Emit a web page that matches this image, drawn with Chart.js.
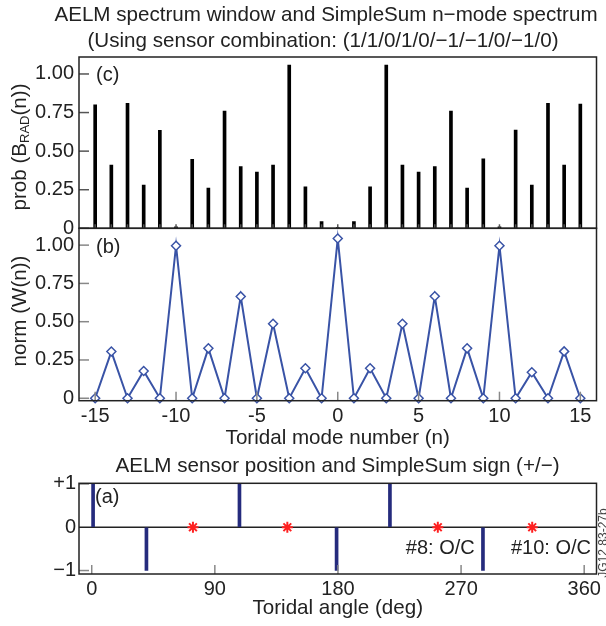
<!DOCTYPE html>
<html lang="en">
<head>
<meta charset="UTF-8">
<title>AELM spectrum window and SimpleSum n-mode spectrum</title>
<script src="https://cdn.jsdelivr.net/npm/chart.js"></script>
<style>
    body { margin: 0; background: #fff; }
    #wrap { position: relative; width: 606px; height: 626px; overflow: hidden; }
    #wrap canvas { position: absolute; left: 0; top: 0; }
</style>
</head>
<body>
<div id="wrap">
    <canvas id="specChart" width="606" height="626"></canvas>
    <canvas id="normChart" width="606" height="626"></canvas>
    <canvas id="sensorChart" width="606" height="626"></canvas>
</div>
<script>
// toroidal mode numbers n
const modeNumbers = [-15, -14, -13, -12, -11, -10, -9, -8, -7, -6, -5, -4, -3, -2, -1, 0,
                     1, 2, 3, 4, 5, 6, 7, 8, 9, 10, 11, 12, 13, 14, 15];
// (c) prob(B_RAD(n))
const probBrad = [0.80, 0.41, 0.81, 0.28, 0.635, 0.01, 0.447, 0.26, 0.76, 0.40, 0.365, 0.41, 1.058, 0.268, 0.043, 0.005,
                  0.043, 0.268, 1.058, 0.41, 0.365, 0.40, 0.76, 0.26, 0.45, 0.01, 0.637, 0.28, 0.81, 0.41, 0.805];
// (b) norm(W(n))
const normW = [0, 0.305, 0, 0.178, 0, 0.996, 0, 0.326, 0, 0.665, 0, 0.487, 0, 0.196, 0, 1.043,
               0, 0.196, 0, 0.487, 0, 0.666, 0, 0.326, 0, 0.996, 0, 0.17, 0, 0.306, 0];
// (a) sensors used (sign +1 / -1) and open-circuit sensors (0)
const sensorAngles = [1, 40, 108, 179, 218, 286];
const sensorSigns = [1, -1, 1, -1, 1, -1];
const openAngles = [74, 143, 253, 322];
const openValues = [0, 0, 0, 0];

// tick values and labels
const probTicks = [0, 0.25, 0.5, 0.75, 1.0];
const probTickLabels = ['0', '0.25', '0.50', '0.75', '1.00'];
const nTicks = [-15, -10, -5, 0, 5, 10, 15];
const nTickLabels = ['-15', '-10', '-5', '0', '5', '10', '15'];
const angleTicks = [0, 90, 180, 270, 360];
const angleTickLabels = ['0', '90', '180', '270', '360'];
const signTicks = [-1, 0, 1];
const signTickLabels = ['\u22121', '0', '+1'];

const FONT = '"Liberation Sans", Arial, Helvetica, sans-serif';
Chart.defaults.font.family = FONT;
Chart.defaults.font.size = 20;
Chart.defaults.color = '#222';

const PLOT_LEFT = 79;
const PLOT_RIGHT = 596.5;
const TITLE_SIZE = 20.6;

// frame, inward tick marks, zero line and free text
const panelDecor = {
    id: 'panelDecor',
    beforeDatasetsDraw(chart, args, opts) {
        const {ctx, chartArea: a, scales: {y}} = chart;
        if (opts.zeroLine) {
            const py = y.getPixelForValue(0);
            ctx.save();
            ctx.strokeStyle = '#222';
            ctx.lineWidth = 1.5;
            ctx.beginPath();
            ctx.moveTo(a.left, py);
            ctx.lineTo(a.right, py);
            ctx.stroke();
            ctx.restore();
        }
    },
    afterDraw(chart, args, opts) {
        const {ctx, chartArea: a, scales: {x, y}} = chart;
        ctx.save();
        ctx.strokeStyle = opts.markColor || '#888';
        ctx.lineWidth = 1.5;
        (opts.yMarks || []).forEach(v => {
            const py = y.getPixelForValue(v);
            ctx.beginPath();
            ctx.moveTo(a.left, py);
            ctx.lineTo(a.left + opts.yMarkLen, py);
            ctx.stroke();
        });
        (opts.xMarks || []).forEach(v => {
            const px = x.getPixelForValue(v);
            ctx.beginPath();
            ctx.moveTo(px, a.bottom);
            ctx.lineTo(px, a.bottom - opts.xMarkLen);
            ctx.stroke();
        });
        ctx.strokeStyle = '#222';
        ctx.lineWidth = 1.5;
        ctx.strokeRect(a.left, a.top, a.right - a.left, a.bottom - a.top);

        (opts.texts || []).forEach(t => {
            ctx.save();
            ctx.fillStyle = t.color || '#222';
            ctx.textBaseline = 'middle';
            const px = t.xv !== undefined ? x.getPixelForValue(t.xv) : t.x;
            const py = t.yv !== undefined ? y.getPixelForValue(t.yv) : t.y;
            ctx.translate(px, py);
            if (t.rotate) ctx.rotate(t.rotate);
            if (t.parts) {
                // text with subscript pieces, centred
                let total = 0;
                t.parts.forEach(p => {
                    ctx.font = p.size + 'px ' + FONT;
                    total += ctx.measureText(p.text).width;
                });
                let cx = -total / 2;
                ctx.textAlign = 'left';
                t.parts.forEach(p => {
                    ctx.font = p.size + 'px ' + FONT;
                    ctx.fillText(p.text, cx, p.dy || 0);
                    cx += ctx.measureText(p.text).width;
                });
            } else {
                ctx.font = (t.size || 20) + 'px ' + FONT;
                ctx.textAlign = t.align || 'center';
                ctx.fillText(t.text, 0, 0);
            }
            ctx.restore();
        });
        ctx.restore();
    }
};

function yAxis(min, max, ticks, labels, pad) {
    return {
        min: min,
        max: max,
        afterFit: s => { s.width = PLOT_LEFT; },
        afterBuildTicks: s => { s.ticks = ticks.map(v => ({value: v})); },
        ticks: {
            padding: pad,
            callback: v => labels[ticks.indexOf(v)]
        },
        grid: {drawOnChartArea: false, drawTicks: false},
        border: {display: false}
    };
}

// (c) spectrum window
new Chart(document.getElementById('specChart'), {
    type: 'bar',
    data: {
        datasets: [{
            data: modeNumbers.map((n, i) => ({x: n, y: probBrad[i]})),
            backgroundColor: '#000',
            barThickness: 3
        }]
    },
    options: {
        responsive: false,
        animation: false,
        layout: {padding: {top: 57, right: 606 - PLOT_RIGHT, bottom: 626 - 228.3, left: 0}},
        scales: {
            x: {type: 'linear', min: -16, max: 16, offset: false, display: false},
            y: yAxis(0, 1.11, probTicks, probTickLabels, 5)
        },
        plugins: {
            legend: {display: false},
            tooltip: {enabled: false},
            panelDecor: {
                yMarks: probTicks, yMarkLen: 10,
                xMarks: modeNumbers, xMarkLen: 4, markColor: '#555',
                texts: [
                    {text: 'AELM spectrum window and SimpleSum n\u2212mode spectrum', x: 326, y: 15, size: TITLE_SIZE},
                    {text: '(Using sensor combination: (1/1/0/1/0/\u22121/\u22121/0/\u22121/0)', x: 323, y: 41, size: TITLE_SIZE},
                    {text: '(c)', x: 96, y: 75, align: 'left'},
                    {x: 20, y: 147, rotate: -Math.PI / 2, parts: [
                        {text: 'prob (B', size: TITLE_SIZE},
                        {text: 'RAD', size: 13, dy: 5},
                        {text: '(n))', size: TITLE_SIZE}
                    ]}
                ]
            }
        }
    },
    plugins: [panelDecor]
});

// (b) SimpleSum n-mode spectrum
new Chart(document.getElementById('normChart'), {
    type: 'line',
    data: {
        datasets: [{
            data: modeNumbers.map((n, i) => ({x: n, y: normW[i]})),
            borderColor: '#3953a6',
            borderWidth: 2,
            tension: 0,
            pointStyle: 'rectRot',
            pointRadius: 4.5,
            pointBackgroundColor: '#fff',
            pointBorderColor: '#3953a6',
            pointBorderWidth: 1.5,
            clip: false
        }]
    },
    options: {
        responsive: false,
        animation: false,
        layout: {padding: {top: 228.3, right: 606 - PLOT_RIGHT, bottom: 626 - 400.7 - 50, left: 0}},
        scales: {
            x: {
                type: 'linear', min: -16, max: 16,
                afterFit: s => { s.height = 50; },
                afterBuildTicks: s => { s.ticks = nTicks.map(v => ({value: v})); },
                ticks: {padding: 4, callback: v => nTickLabels[nTicks.indexOf(v)]},
                grid: {drawOnChartArea: false, drawTicks: false},
                border: {display: false},
                title: {display: true, text: 'Toridal mode number (n)', padding: 0, font: {size: TITLE_SIZE}}
            },
            y: yAxis(-0.016, 1.11, probTicks, probTickLabels, 5)
        },
        plugins: {
            legend: {display: false},
            tooltip: {enabled: false},
            panelDecor: {
                yMarks: probTicks, yMarkLen: 10,
                xMarks: nTicks, xMarkLen: 9,
                texts: [
                    {text: '(b)', x: 96, y: 247, align: 'left'},
                    {text: 'norm (W(n))', x: 20, y: 311, rotate: -Math.PI / 2, size: TITLE_SIZE}
                ]
            }
        }
    },
    plugins: [panelDecor]
});

// (a) sensor position and sign
new Chart(document.getElementById('sensorChart'), {
    type: 'bar',
    data: {
        datasets: [{
            data: sensorAngles.map((a, i) => ({x: a, y: sensorSigns[i]})),
            backgroundColor: '#252b7d',
            barThickness: 3
        }, {
            type: 'scatter',
            data: openAngles.map((a, i) => ({x: a, y: openValues[i]})),
            pointStyle: 'star',
            pointRadius: 5.5,
            borderColor: '#ff2020',
            backgroundColor: '#ff2020',
            borderWidth: 2,
            clip: false
        }]
    },
    options: {
        responsive: false,
        animation: false,
        layout: {padding: {top: 483.3, right: 606 - PLOT_RIGHT, bottom: 626 - 574 - 47, left: 0}},
        scales: {
            x: {
                type: 'linear', min: -9.3, max: 369, offset: false,
                afterFit: s => { s.height = 47; },
                afterBuildTicks: s => { s.ticks = angleTicks.map(v => ({value: v})); },
                ticks: {padding: 3, callback: v => angleTickLabels[angleTicks.indexOf(v)]},
                grid: {drawOnChartArea: false, drawTicks: false, offset: false},
                border: {display: false},
                title: {display: true, text: 'Toridal angle (deg)', padding: 0, font: {size: TITLE_SIZE}}
            },
            y: yAxis(-1.08, 1.015, signTicks, signTickLabels, 3)
        },
        plugins: {
            legend: {display: false},
            tooltip: {enabled: false},
            panelDecor: {
                zeroLine: true,
                yMarks: [-1, 1], yMarkLen: 10,
                xMarks: angleTicks, xMarkLen: 9,
                texts: [
                    {text: 'AELM sensor position and SimpleSum sign (+/\u2212)', x: 337.5, y: 466, size: TITLE_SIZE},
                    {text: '(a)', x: 95, y: 497, align: 'left'},
                    {text: '#8: O/C', xv: 280, yv: -0.5, align: 'right'},
                    {text: '#10: O/C', xv: 365, yv: -0.5, align: 'right'},
                    {text: 'JG12 83-27b', x: 603.5, y: 543, rotate: -Math.PI / 2, size: 12, color: '#444'}
                ]
            }
        }
    },
    plugins: [panelDecor]
});
</script>
</body>
</html>
